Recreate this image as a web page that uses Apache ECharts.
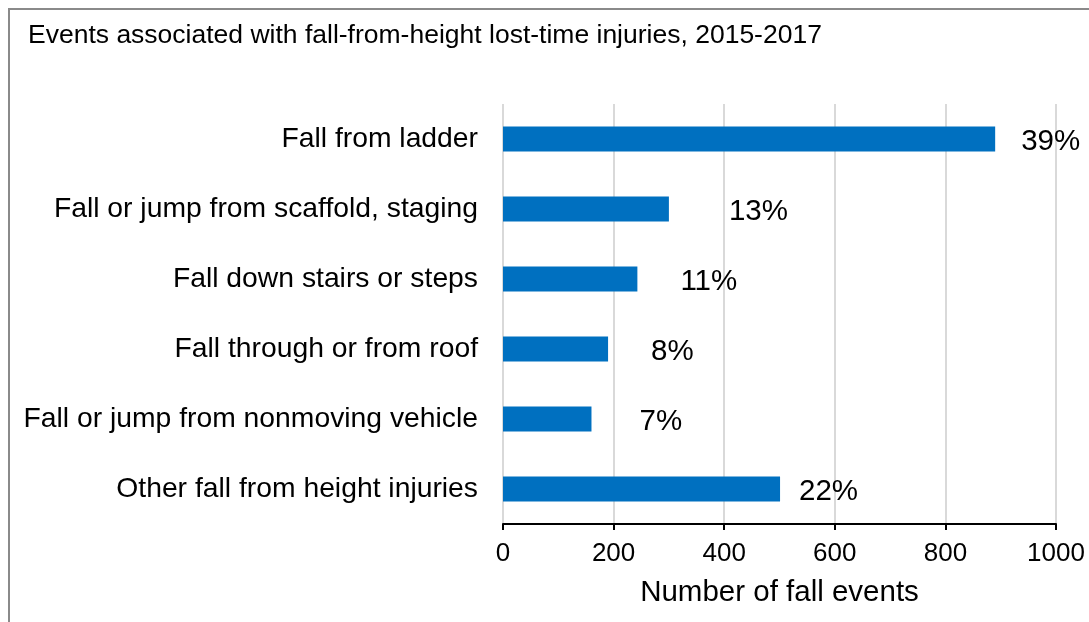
<!DOCTYPE html>
<html>
<head>
<meta charset="utf-8">
<title>Fall-from-height events</title>
<script src="https://cdn.jsdelivr.net/npm/echarts@6/dist/echarts.min.js"></script>
<style>
  html, body { margin: 0; padding: 0; background: #fff; }
  #chart { width: 1089px; height: 622px; }
</style>
</head>
<body>
<div id="chart"></div>
<script>
// data
const categories = [
  'Fall from ladder',
  'Fall or jump from scaffold, staging',
  'Fall down stairs or steps',
  'Fall through or from roof',
  'Fall or jump from nonmoving vehicle',
  'Other fall from height injuries'
];
const fallEvents = [890, 300, 243, 190, 160, 501];
const shares = ['39%', '13%', '11%', '8%', '7%', '22%'];
const xTicks = [0, 200, 400, 600, 800, 1000];

// gap between bar end and its percentage label (px), as placed in the original
const labelGaps = [26, 60, 43, 43, 48, 19];

const FONT = '"Liberation Sans", Arial, sans-serif';

const chart = echarts.init(document.getElementById('chart'));

chart.setOption({
  animation: false,
  backgroundColor: '#fff',
  textStyle: { fontFamily: FONT },
  graphic: [{
    type: 'rect',
    shape: { x: 9, y: 9, width: 1200, height: 800 },
    style: { fill: 'none', stroke: '#8a8a8a', lineWidth: 2 },
    silent: true
  }],
  title: {
    text: 'Events associated with fall-from-height lost-time injuries, 2015-2017',
    left: 28,
    top: 22,
    padding: 0,
    textStyle: {
      fontFamily: FONT,
      fontSize: 26.5,
      fontWeight: 'normal',
      color: '#000'
    }
  },
  grid: {
    left: 503,
    right: 33,
    top: 104,
    bottom: 98,
    containLabel: false
  },
  xAxis: {
    type: 'value',
    min: xTicks[0],
    max: xTicks[xTicks.length - 1],
    interval: xTicks[1] - xTicks[0],
    name: 'Number of fall events',
    nameLocation: 'middle',
    nameGap: 54,
    nameTextStyle: { fontFamily: FONT, fontSize: 29.5, color: '#000' },
    axisLine: { show: true, lineStyle: { color: '#000', width: 2 } },
    axisTick: { show: true, length: 6, lineStyle: { color: '#000', width: 2 } },
    axisLabel: {
      fontFamily: FONT,
      fontSize: 26,
      color: '#000',
      margin: 17,
      formatter: v => String(v)
    },
    splitLine: { show: true, lineStyle: { color: '#d9d9d9', width: 2 } }
  },
  yAxis: {
    type: 'category',
    data: categories,
    inverse: true,
    axisLine: { show: false },
    axisTick: { show: false },
    axisLabel: { fontFamily: FONT, fontSize: 28.3, color: '#000', margin: 25 }
  },
  series: [{
    type: 'bar',
    barWidth: 25,
    itemStyle: { color: '#0070c0' },
    data: fallEvents.map((v, i) => ({
      value: v,
      label: {
        show: true,
        position: 'right',
        distance: 0,
        offset: [labelGaps[i], 3],
        formatter: shares[i],
        fontFamily: FONT,
        fontSize: 29.5,
        color: '#000'
      }
    }))
  }]
});
</script>
</body>
</html>
